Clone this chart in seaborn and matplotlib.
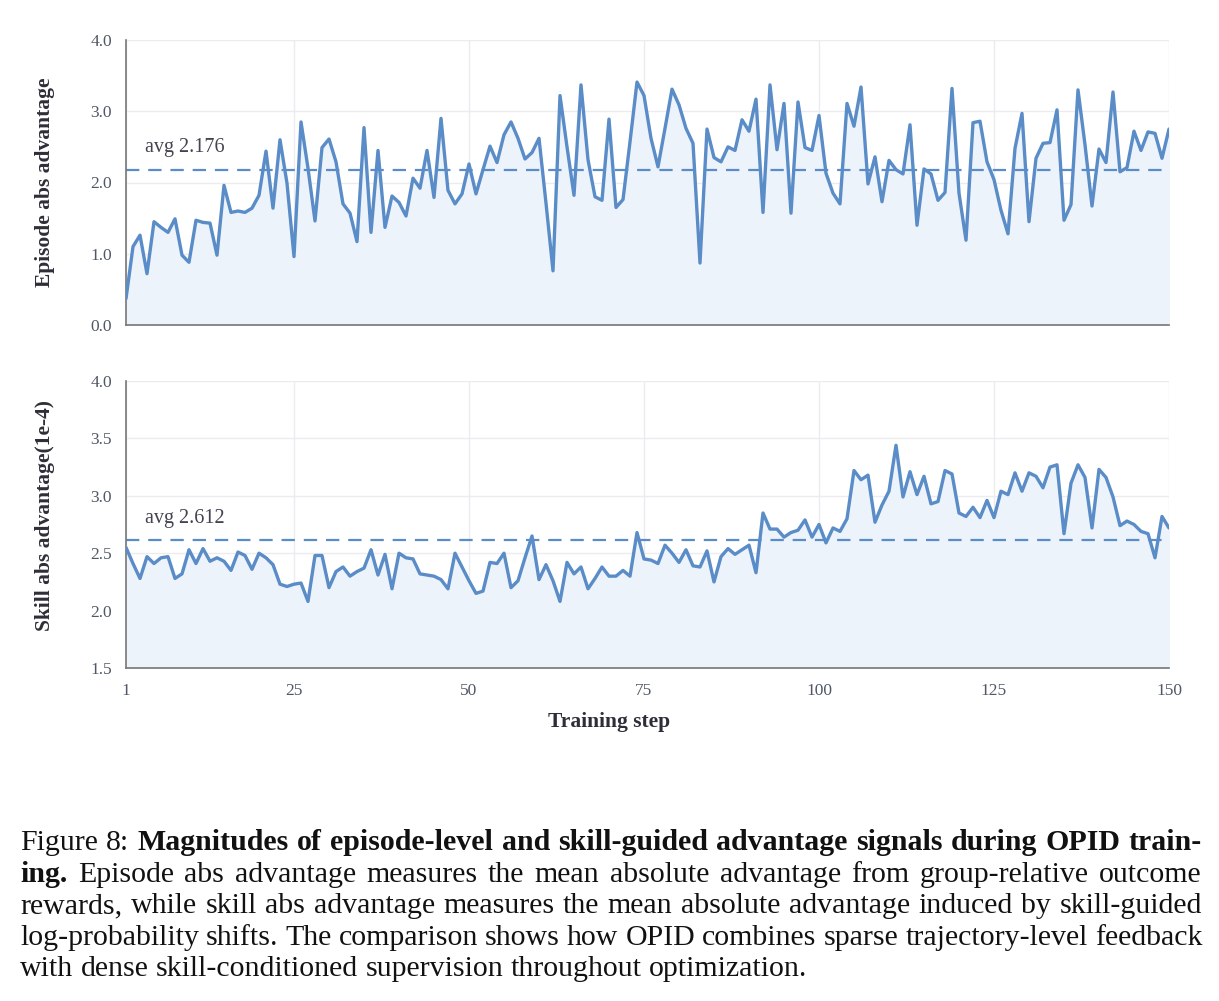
import matplotlib
matplotlib.use("Agg")
import matplotlib.pyplot as plt
import numpy as np
import pandas as pd
import seaborn as sns

STEPS = np.arange(1, 151)

EPISODE_ADV = [
    0.37, 1.10, 1.26, 0.72, 1.45, 1.37, 1.30, 1.49, 0.98, 0.88,
    1.47, 1.44, 1.43, 0.98, 1.96, 1.58, 1.60, 1.58, 1.64, 1.82,
    2.44, 1.64, 2.60, 1.99, 0.96, 2.85, 2.20, 1.46, 2.49, 2.61,
    2.29, 1.70, 1.57, 1.17, 2.77, 1.30, 2.45, 1.37, 1.81, 1.72,
    1.53, 2.06, 1.92, 2.45, 1.79, 2.90, 1.89, 1.70, 1.84, 2.26,
    1.84, 2.18, 2.51, 2.28, 2.67, 2.85, 2.62, 2.33, 2.42, 2.62,
    1.71, 0.76, 3.22, 2.50, 1.82, 3.37, 2.32, 1.80, 1.75, 2.89,
    1.65, 1.76, 2.57, 3.41, 3.22, 2.62, 2.22, 2.76, 3.31, 3.09,
    2.76, 2.55, 0.87, 2.75, 2.35, 2.29, 2.50, 2.45, 2.88, 2.72,
    3.17, 1.58, 3.37, 2.46, 3.11, 1.57, 3.13, 2.49, 2.45, 2.94,
    2.13, 1.85, 1.70, 3.11, 2.79, 3.34, 1.98, 2.36, 1.73, 2.31,
    2.18, 2.12, 2.81, 1.40, 2.19, 2.12, 1.75, 1.86, 3.32, 1.85,
    1.19, 2.84, 2.86, 2.29, 2.04, 1.61, 1.28, 2.48, 2.97, 1.45,
    2.34, 2.55, 2.56, 3.02, 1.47, 1.69, 3.30, 2.53, 1.67, 2.47,
    2.28, 3.27, 2.15, 2.21, 2.72, 2.45, 2.71, 2.69, 2.34, 2.75,
]

SKILL_ADV = [
    2.55, 2.41, 2.28, 2.47, 2.41, 2.46, 2.47, 2.28, 2.32, 2.53,
    2.41, 2.54, 2.43, 2.46, 2.43, 2.35, 2.51, 2.48, 2.36, 2.50,
    2.46, 2.40, 2.23, 2.21, 2.23, 2.24, 2.08, 2.48, 2.48, 2.20,
    2.34, 2.38, 2.30, 2.34, 2.37, 2.53, 2.31, 2.49, 2.19, 2.50,
    2.46, 2.45, 2.32, 2.31, 2.30, 2.27, 2.19, 2.50, 2.38, 2.26,
    2.15, 2.17, 2.42, 2.41, 2.50, 2.20, 2.26, 2.46, 2.65, 2.27,
    2.40, 2.26, 2.08, 2.42, 2.32, 2.38, 2.19, 2.28, 2.38, 2.30,
    2.30, 2.35, 2.30, 2.68, 2.45, 2.44, 2.41, 2.57, 2.50, 2.42,
    2.53, 2.39, 2.38, 2.52, 2.25, 2.47, 2.54, 2.49, 2.53, 2.57,
    2.33, 2.85, 2.71, 2.71, 2.64, 2.68, 2.70, 2.79, 2.64, 2.75,
    2.59, 2.72, 2.69, 2.80, 3.22, 3.14, 3.18, 2.77, 2.92, 3.04,
    3.44, 2.99, 3.21, 3.01, 3.17, 2.93, 2.95, 3.22, 3.19, 2.85,
    2.82, 2.90, 2.81, 2.96, 2.81, 3.04, 3.01, 3.20, 3.04, 3.20,
    3.17, 3.07, 3.25, 3.27, 2.67, 3.11, 3.27, 3.16, 2.72, 3.23,
    3.16, 2.99, 2.74, 2.78, 2.75, 2.69, 2.67, 2.46, 2.82, 2.72,
]

AVG_EPISODE = 2.176
AVG_SKILL = 2.612

X_TICKS = [1, 25, 50, 75, 100, 125, 150]
EPISODE_TICKS = [0.0, 1.0, 2.0, 3.0, 4.0]
SKILL_TICKS = [1.5, 2.0, 2.5, 3.0, 3.5, 4.0]

CAPTION = [
    ([("Figure 8:", False), ("Magnitudes of episode-level and skill-guided advantage signals during OPID train-", True)], True),
    ([("ing.", True), ("Episode abs advantage measures the mean absolute advantage from group-relative outcome", False)], True),
    ([("rewards, while skill abs advantage measures the mean absolute advantage induced by skill-guided", False)], True),
    ([("log-probability shifts. The comparison shows how OPID combines sparse trajectory-level feedback", False)], True),
    ([("with dense skill-conditioned supervision throughout optimization.", False)], False),
]

LINE = "#5a8cc7"
FILL = "#edf3fb"
SERIF = "Liberation Serif"
W, H = 1219, 1001


def style_axis(ax, ticks, ylim, ylabel):
    ax.set_xlim(1, 150)
    ax.set_ylim(*ylim)
    ax.set_yticks(ticks)
    ax.set_yticklabels([f"{t:.1f}" for t in ticks])
    ax.set_xticks(X_TICKS)
    ax.grid(True, color="#ebebf0", linewidth=1.0)
    ax.set_facecolor("white")
    for side in ["top", "right"]:
        ax.spines[side].set_visible(False)
    for side in ["left", "bottom"]:
        ax.spines[side].set_visible(True)
        ax.spines[side].set_color("#777777")
        ax.spines[side].set_linewidth(1.2)
    ax.tick_params(axis="both", length=0, labelsize=12.5, labelcolor="#505866")
    ax.tick_params(axis="y", pad=10)
    ax.tick_params(axis="x", pad=11)
    for lab in ax.get_yticklabels() + ax.get_xticklabels():
        lab.set_family(SERIF)
    ax.set_ylabel(ylabel, fontsize=15.5, fontweight="bold", family=SERIF, color="#2e2e38", labelpad=24)


def panel(ax, values, avg, ticks, ylim, ylabel):
    df = pd.DataFrame({"step": STEPS, "value": values})
    ax.fill_between(df["step"], ylim[0], df["value"], color=FILL, zorder=1)
    sns.lineplot(data=df, x="step", y="value", ax=ax, color=LINE, linewidth=2.4, zorder=3)
    ax.axhline(avg, color=LINE, linestyle=(0, (6, 4)), linewidth=1.6, zorder=2)
    ax.annotate(f"avg {avg:.3f}", xy=(1, avg), xytext=(14, 16), textcoords="offset points",
                va="center", ha="left", fontsize=14.5, family=SERIF, color="#444450")
    style_axis(ax, ticks, ylim, ylabel)
    ax.set_xlabel("")


def draw_caption(fig):
    renderer = fig.canvas.get_renderer()
    x0, x1 = 20, 1202
    baselines = [850, 882, 913, 945, 976]
    size = 21.5
    space = size * 0.25 * fig.dpi / 72
    for (segments, justify), yb in zip(CAPTION, baselines):
        items = []
        for text, bold in segments:
            for word in text.split(" "):
                t = fig.text(0, 0, word, fontsize=size, family=SERIF, color="#111111",
                             fontweight="bold" if bold else "normal", va="baseline", ha="left")
                items.append((t, t.get_window_extent(renderer).width))
        total = sum(w for _, w in items)
        gap = (x1 - x0 - total) / (len(items) - 1) if justify else space
        x = x0
        for t, w in items:
            t.set_position((x / W, 1 - yb / H))
            x += w + gap


def main():
    sns.set_theme(style="whitegrid")
    plt.rcParams["font.family"] = [SERIF, "DejaVu Serif"]
    fig = plt.figure(figsize=(W / 100, H / 100), dpi=100)
    ax1 = fig.add_axes([126 / W, 1 - 325 / H, (1169 - 126) / W, (325 - 40) / H])
    ax2 = fig.add_axes([126 / W, 1 - 668 / H, (1169 - 126) / W, (668 - 381) / H])

    panel(ax1, EPISODE_ADV, AVG_EPISODE, EPISODE_TICKS, (0.0, 4.0), "Episode abs advantage")
    ax1.tick_params(axis="x", labelbottom=False)
    panel(ax2, SKILL_ADV, AVG_SKILL, SKILL_TICKS, (1.5, 4.0), "Skill abs advantage(1e-4)")
    ax2.set_xlabel("Training step", fontsize=15.5, fontweight="bold", family=SERIF, color="#2e2e38", labelpad=10)
    ax2.xaxis.set_label_coords(0.463, -0.155)
    ax2.yaxis.set_label_coords(-0.068, 0.53)
    ax1.yaxis.set_label_coords(-0.068, 0.5)

    draw_caption(fig)
    fig.savefig("out.png", dpi=100, facecolor="white")
    plt.close(fig)


if __name__ == "__main__":
    main()
